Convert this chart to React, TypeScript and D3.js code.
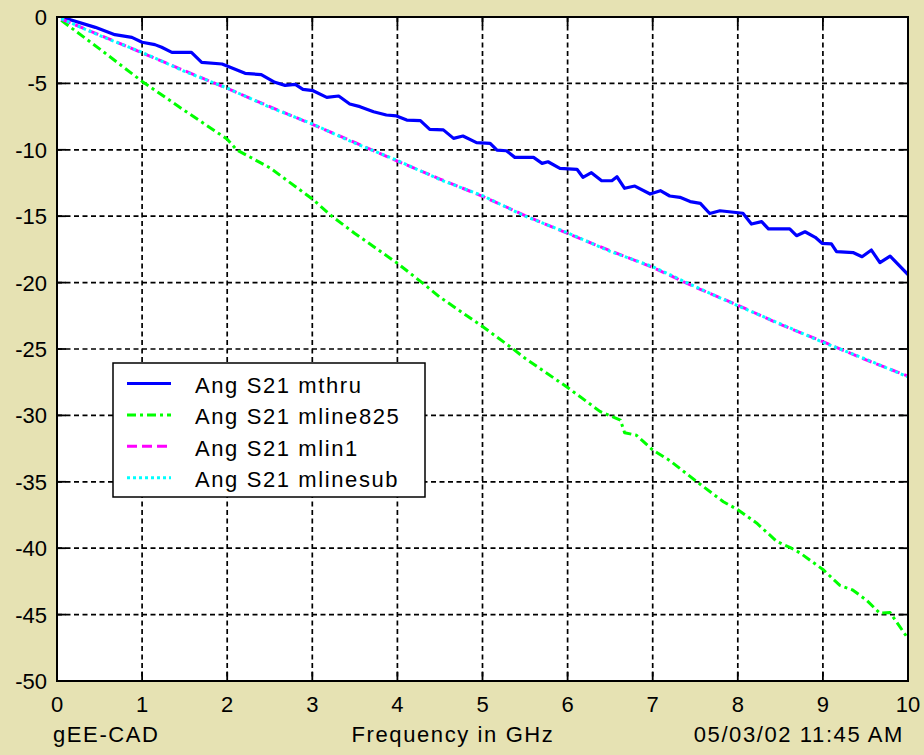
import React from 'react';
import { scaleLinear, line } from 'd3';

// S21 phase (degrees) vs frequency (GHz)
const mthruFreq = [0.05, 0.45, 0.68, 0.88, 1.0, 1.15, 1.23, 1.35, 1.58, 1.7, 1.94, 2.21, 2.4, 2.56, 2.68, 2.8, 2.89, 3.01, 3.17, 3.31, 3.44, 3.56, 3.72, 3.87, 3.99, 4.11, 4.27, 4.38, 4.54, 4.66, 4.77, 4.93, 5.09, 5.17, 5.28, 5.38, 5.6, 5.7, 5.77, 5.91, 6.11, 6.18, 6.28, 6.4, 6.52, 6.58, 6.67, 6.79, 6.97, 7.09, 7.2, 7.32, 7.44, 7.56, 7.67, 7.79, 8.06, 8.16, 8.28, 8.36, 8.61, 8.69, 8.79, 8.91, 8.99, 9.1, 9.16, 9.36, 9.46, 9.57, 9.67, 9.79, 10.0];
const mthruAng = [0, -0.78, -1.33, -1.53, -1.9, -2.08, -2.28, -2.66, -2.66, -3.41, -3.54, -4.24, -4.34, -4.92, -5.15, -5.07, -5.45, -5.55, -6.05, -5.95, -6.55, -6.75, -7.13, -7.38, -7.45, -7.76, -7.8, -8.46, -8.5, -9.14, -8.96, -9.46, -9.51, -10.03, -10.07, -10.57, -10.57, -11.02, -10.9, -11.4, -11.47, -12.07, -11.72, -12.33, -12.33, -12.03, -12.9, -12.73, -13.33, -13.08, -13.48, -13.58, -13.9, -14.03, -14.8, -14.59, -14.78, -15.59, -15.41, -15.96, -15.96, -16.47, -16.17, -16.59, -17.04, -17.09, -17.67, -17.75, -18.05, -17.55, -18.5, -18.0, -19.4];

const mline825Freq = [0.05, 0.5, 1.0, 1.5, 2.0, 2.11, 2.5, 3.0, 3.23, 3.5, 4.0, 4.29, 4.5, 5.0, 5.36, 5.5, 6.0, 6.38, 6.62, 6.67, 6.81, 7.0, 7.2, 7.52, 7.83, 8.0, 8.22, 8.46, 8.63, 8.73, 9.0, 9.2, 9.35, 9.51, 9.67, 9.79, 10.0];
const mline825Ang = [-0.25, -2.4, -4.85, -7.05, -9.2, -10.0, -11.35, -13.7, -15.0, -16.3, -18.55, -20.0, -21.1, -23.3, -25.0, -25.7, -27.9, -29.7, -30.35, -31.3, -31.5, -32.6, -33.4, -35.0, -36.5, -37.1, -38.1, -39.5, -40.0, -40.35, -41.6, -42.8, -43.15, -43.9, -44.9, -44.85, -46.8];

const sweepFreq = [0.05, 0.5, 1.0, 1.5, 2.0, 2.5, 3.0, 3.5, 4.0, 4.5, 5.0, 5.5, 6.0, 6.5, 7.0, 7.5, 8.0, 8.5, 9.0, 9.5, 10.0];
const mlin1Ang = [-0.15, -1.35, -2.7, -4.05, -5.38, -6.75, -8.08, -9.45, -10.85, -12.2, -13.5, -14.95, -16.3, -17.6, -18.85, -20.35, -21.7, -23.15, -24.45, -25.8, -27.05];
const mlinesubAng = [-0.12, -1.4, -2.66, -4.1, -5.35, -6.8, -8.05, -9.5, -10.8, -12.25, -13.45, -15.0, -16.25, -17.65, -18.8, -20.3, -21.75, -23.1, -24.5, -25.75, -27.1];

const xTicks = [0, 1, 2, 3, 4, 5, 6, 7, 8, 9, 10];
const yTicks = [0, -5, -10, -15, -20, -25, -30, -35, -40, -45, -50];

const seriesNames = ['Ang S21 mthru', 'Ang S21 mline825', 'Ang S21 mlin1', 'Ang S21 mlinesub'];

const W = 924;
const H = 755;
const L = 57, R = 908, T = 17, B = 681;
const font = "'Liberation Sans', Arial, sans-serif";

const styles = [
  { color: '#0000ff', dash: 'none', width: 3.2 },
  { color: '#00ff00', dash: '9,4,3,4', width: 3 },
  { color: '#ff00ff', dash: '10,5', width: 3 },
  { color: '#00ffff', dash: '3,3', width: 3 },
];

const App = () => {
  const x = scaleLinear().domain([0, 10]).range([L, R]);
  const y = scaleLinear().domain([-50, 0]).range([B, T]);

  const mk = (fs: number[], vs: number[]) =>
    line<number>().x((_, i) => x(fs[i])).y(v => y(v))(vs) || '';

  const paths = [
    mk(mthruFreq, mthruAng),
    mk(mline825Freq, mline825Ang),
    mk(sweepFreq, mlin1Ang),
    mk(sweepFreq, mlinesubAng),
  ];

  const tick = 9;

  return (
    <svg width={W} height={H} style={{ position: 'fixed', left: 0, top: 0 }} fontFamily={font}>
      <rect width={W} height={H} fill="#e6e2b3" />
      <rect x={L} y={T} width={R - L} height={B - T} fill="#ffffff" />
      <defs>
        <clipPath id="plot">
          <rect x={L} y={T} width={R - L} height={B - T} />
        </clipPath>
      </defs>

      {/* grid */}
      <g stroke="#000" strokeWidth={1.7} strokeDasharray="5,3.5">
        {xTicks.slice(1, -1).map(t => (
          <line key={'gx' + t} x1={x(t)} x2={x(t)} y1={T} y2={B} />
        ))}
        {yTicks.slice(1, -1).map(t => (
          <line key={'gy' + t} x1={L} x2={R} y1={y(t)} y2={y(t)} />
        ))}
      </g>

      {/* data */}
      <g clipPath="url(#plot)" fill="none">
        {paths.map((d, i) => (
          <path key={i} d={d} stroke={styles[i].color} strokeWidth={styles[i].width}
            strokeDasharray={styles[i].dash} strokeLinejoin="round" />
        ))}
      </g>

      {/* box and inner ticks */}
      <rect x={L} y={T} width={R - L} height={B - T} fill="none" stroke="#000" strokeWidth={2} />
      <g stroke="#000" strokeWidth={1.8}>
        {xTicks.map(t => (
          <g key={'tx' + t}>
            <line x1={x(t)} x2={x(t)} y1={B} y2={B - tick} />
            <line x1={x(t)} x2={x(t)} y1={T} y2={T + tick} />
          </g>
        ))}
        {yTicks.map(t => (
          <g key={'ty' + t}>
            <line x1={L} x2={L + tick} y1={y(t)} y2={y(t)} />
            <line x1={R} x2={R - tick} y1={y(t)} y2={y(t)} />
          </g>
        ))}
      </g>

      {/* tick labels */}
      <g fontSize={22} fill="#000">
        {xTicks.map(t => (
          <text key={'lx' + t} x={x(t)} y={712} textAnchor="middle">{t}</text>
        ))}
        {yTicks.map(t => (
          <text key={'ly' + t} x={47} y={y(t) + 8} textAnchor="end">{t}</text>
        ))}
      </g>

      {/* footer texts */}
      <g fontSize={22} fill="#000" letterSpacing={1.6}>
        <text x={53} y={742}>gEE-CAD</text>
        <text x={453} y={742} textAnchor="middle">Frequency in GHz</text>
        <text x={904} y={742} textAnchor="end">05/03/02 11:45 AM</text>
      </g>

      {/* legend */}
      <g>
        <rect x={113} y={363} width={312} height={134} fill="#fff" stroke="#000" strokeWidth={1.5} />
        {seriesNames.map((name, i) => {
          const cy = 383.5 + i * 31.4;
          return (
            <g key={name}>
              <line x1={127} x2={171} y1={cy} y2={cy} stroke={styles[i].color}
                strokeWidth={styles[i].width} strokeDasharray={styles[i].dash} />
              <text x={195} y={cy + 9.5} fontSize={22} letterSpacing={1.6} fill="#000">{name}</text>
            </g>
          );
        })}
      </g>
    </svg>
  );
};

export default App;
